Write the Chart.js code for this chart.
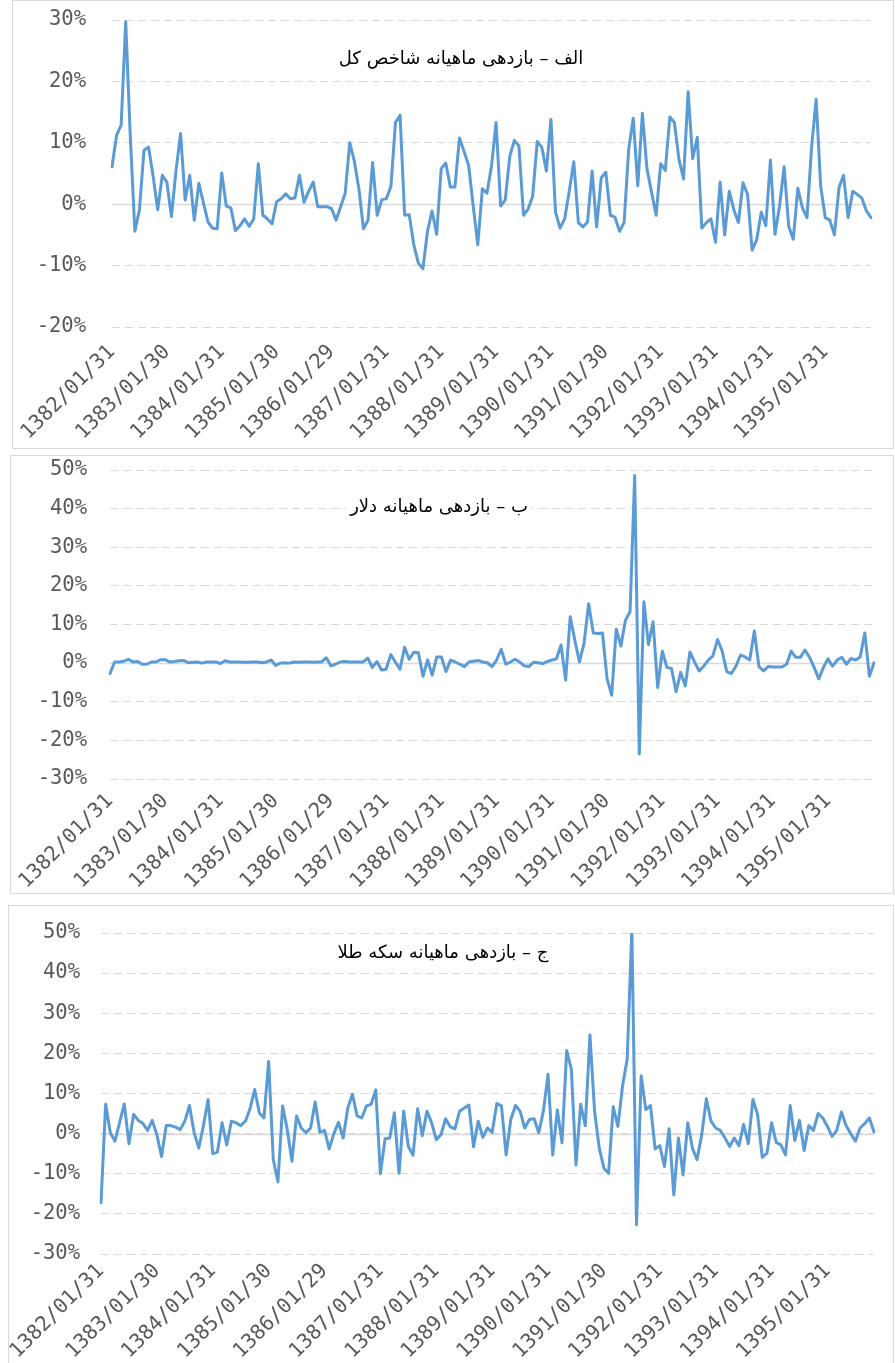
<!DOCTYPE html>
<html>
<head>
<meta charset="utf-8">
<script src="https://cdn.jsdelivr.net/npm/chart.js@4.4.0/dist/chart.umd.min.js"></script>
<style>
  html, body { margin: 0; padding: 0; background: #fff; }
  body { width: 895px; height: 1363px; position: relative; overflow: hidden; }
  .panel { position: absolute; border: 1px solid #d9d9d9; box-sizing: border-box; background: #fff; }
  .panel canvas { position: absolute; left: 0; top: 0; }
</style>
</head>
<body>
<div class="panel" style="left:12px;top:0px;width:882px;height:449px"><canvas id="stockChart" width="880" height="447"></canvas></div>
<div class="panel" style="left:10px;top:455px;width:884px;height:439px"><canvas id="dollarChart" width="882" height="437"></canvas></div>
<div class="panel" style="left:8px;top:905px;width:886px;height:460px"><canvas id="goldChart" width="884" height="458"></canvas></div>
<script>
// monthly returns (%), 1382/01 .. 1395/11
const yearLabels = ['1382/01/31', '1383/01/30', '1384/01/31', '1385/01/30', '1386/01/29', '1387/01/31', '1388/01/31',
  '1389/01/31', '1390/01/31', '1391/01/30', '1392/01/31', '1393/01/31', '1394/01/31', '1395/01/31'];

const stockReturns = [
  6.1, 11.2, 12.9, 29.7, 11, -4.4, -0.9, 8.8, 9.3, 4.5, -0.9, 4.7,
  3.6, -2.0, 5.5, 11.5, 0.7, 4.7, -2.6, 3.4, 0.2, -2.9, -3.9, -4.0,
  5.1, -0.3, -0.6, -4.3, -3.5, -2.4, -3.6, -2.4, 6.6, -1.8, -2.4, -3.2,
  0.4, 0.9, 1.7, 0.9, 1.0, 4.7, 0.3, 2.1, 3.6, -0.4, -0.4, -0.4,
  -0.7, -2.6, -0.4, 1.8, 10.0, 7.0, 2.5, -4.0, -2.6, 6.8, -1.8, 0.7,
  0.9, 2.9, 13.3, 14.5, -1.8, -1.7, -6.6, -9.6, -10.5, -4.4, -1.1, -4.9,
  5.8, 6.7, 2.8, 2.8, 10.8, 8.6, 6.3, -0.3, -6.6, 2.5, 1.8, 6.2,
  13.3, -0.3, 0.7, 7.8, 10.4, 9.5, -1.8, -0.8, 1.3, 10.2, 9.3, 5.4,
  13.8, -1.3, -3.9, -2.4, 2.1, 6.9, -3.0, -3.7, -2.9, 5.4, -3.7, 4.3,
  5.2, -1.8, -2.1, -4.4, -3.0, 8.9, 14.0, 3.0, 14.8, 5.8, 2.0, -1.8,
  6.6, 5.5, 14.2, 13.3, 7.3, 4.1, 18.3, 7.4, 10.9, -3.9, -3.0, -2.4,
  -6.2, 3.6, -5.0, 2.1, -0.9, -3.0, 3.5, 1.6, -7.5, -5.8, -1.3, -3.5,
  7.2, -4.9, -0.3, 6.1, -3.6, -5.7, 2.6, -0.6, -2.2, 9.2, 17.1, 2.9,
  -2.2, -2.6, -5.0, 2.7, 4.7, -2.2, 2.1, 1.6, 1.0, -1.1, -2.2
];

const dollarReturns = [
  -2.7, 0.3, 0.3, 0.5, 1.0, 0.3, 0.4, -0.3, -0.3, 0.3, 0.3, 0.9,
  0.9, 0.3, 0.4, 0.6, 0.7, 0.1, 0.2, 0.3, 0.0, 0.3, 0.3, 0.3,
  -0.1, 0.6, 0.3, 0.3, 0.3, 0.2, 0.2, 0.3, 0.3, 0.1, 0.3, 0.8,
  -0.6, 0.0, 0.1, 0.0, 0.3, 0.2, 0.3, 0.3, 0.2, 0.3, 0.3, 1.4,
  -0.7, -0.3, 0.3, 0.4, 0.3, 0.3, 0.3, 0.3, 1.3, -1.1, 0.4, -1.8,
  -1.6, 2.2, 0.3, -1.6, 4.1, 1.0, 2.8, 2.7, -3.4, 0.8, -3.1, 1.6,
  1.6, -2.2, 0.8, 0.3, -0.3, -0.9, 0.3, 0.5, 0.7, 0.3, 0.1, -0.9,
  0.8, 3.6, -0.3, 0.3, 1.0, 0.3, -0.7, -0.9, 0.2, 0.1, -0.1, 0.4,
  0.8, 1.1, 4.7, -4.4, 12.0, 5.9, 0.3, 5.1, 15.4, 7.8, 7.7, 7.8,
  -4.0, -8.3, 8.8, 4.4, 11.1, 13.3, 48.6, -23.5, 15.9, 4.8, 10.7, -6.3,
  3.1, -1.1, -1.4, -7.4, -2.4, -5.9, 2.9, 0.3, -2.0, -0.8, 0.8, 1.9,
  6.1, 3.2, -2.2, -2.7, -0.8, 2.1, 1.6, 0.8, 8.3, -0.9, -2.0, -0.9,
  -1.0, -1.0, -1.0, -0.3, 3.1, 1.5, 1.5, 3.4, 1.5, -1.1, -4.1, -1.1,
  1.1, -0.8, 0.8, 1.5, -0.3, 1.2, 0.8, 1.6, 7.8, -3.4, 0.1
];

const goldReturns = [
  -17.2, 7.3, 0.2, -1.9, 2.8, 7.4, -2.5, 4.8, 3.3, 2.5, 0.8, 3.3,
  -0.3, -5.7, 2.0, 2.0, 1.6, 1.0, 3.1, 7.0, 0.2, -3.6, 2.0, 8.5,
  -5.0, -4.6, 2.7, -2.8, 3.1, 2.7, 2.0, 3.1, 6.2, 11.0, 5.2, 3.9,
  18.0, -6.5, -12.0, 6.9, 1.0, -6.9, 4.4, 1.4, 0.2, 1.4, 7.9, 0.3,
  0.8, -3.8, 0.0, 2.8, -1.1, 6.4, 9.8, 4.4, 3.9, 6.9, 7.3, 10.9,
  -10.0, -1.3, -1.1, 5.2, -9.9, 5.6, -3.2, -5.4, 6.2, -0.5, 5.6, 2.7,
  -1.5, -0.3, 3.7, 1.7, 1.2, 5.6, 6.4, 7.1, -3.3, 3.1, -0.9, 1.4,
  0.3, 7.5, 6.9, -5.3, 3.5, 7.0, 5.6, 1.4, 3.5, 3.7, 0.2, 5.6,
  14.8, -5.3, 5.9, -2.3, 20.7, 16.1, -7.8, 7.3, 2.0, 24.6, 5.5, -3.6,
  -8.6, -9.9, 6.7, 1.8, 11.9, 18.6, 51.0, -22.7, 14.4, 6.0, 7.0, -3.8,
  -3.0, -8.2, 1.2, -15.3, -1.1, -10.3, 2.7, -3.6, -6.5, -0.3, 8.7, 3.1,
  1.4, 0.8, -1.1, -3.2, -1.1, -3.0, 2.3, -2.5, 8.5, 4.8, -5.9, -4.9,
  2.7, -2.2, -2.8, -5.3, 7.0, -1.7, 3.3, -4.2, 2.0, 0.8, 5.0, 3.9,
  1.8, -0.7, 0.8, 5.4, 2.0, 0.0, -1.9, 1.4, 2.5, 3.9, 0.4
];

const titles = {
  stock: 'الف – بازدهی ماهیانه شاخص کل',
  dollar: 'ب – بازدهی ماهیانه دلار',
  gold: 'ج – بازدهی ماهیانه سکه طلا',
};

const categories = stockReturns.map((_, i) => (i % 12 === 0 ? yearLabels[i / 12] : ''));

const tickFont = { family: "'DejaVu Sans Mono', 'Liberation Mono', monospace", size: 20.5 };
const tickColor = '#595959';
const gridColor = '#d9d9d9';

// solid zero line + title with white box behind it
const decorPlugin = {
  id: 'decor',
  beforeDatasetsDraw(chart, args, opts) {
    const { ctx, chartArea } = chart;
    const y0 = chart.scales.y.getPixelForValue(0);
    ctx.save();
    ctx.strokeStyle = gridColor;
    ctx.lineWidth = 1.5;
    ctx.setLineDash([]);
    ctx.beginPath();
    ctx.moveTo(chartArea.left, Math.round(y0) + 0.5);
    ctx.lineTo(chartArea.right, Math.round(y0) + 0.5);
    ctx.stroke();

    ctx.font = "18px 'DejaVu Sans', sans-serif";
    ctx.direction = 'rtl';
    ctx.textAlign = 'center';
    ctx.textBaseline = 'middle';
    const w = ctx.measureText(opts.text).width;
    ctx.fillStyle = '#fff';
    ctx.fillRect(opts.x - w / 2 - 4, opts.y - 13, w + 8, 26);
    ctx.fillStyle = '#000';
    ctx.fillText(opts.text, opts.x, opts.y);
    ctx.restore();
  }
};

function makeChart(id, values, cfg) {
  return new Chart(document.getElementById(id), {
    type: 'line',
    data: {
      labels: categories,
      datasets: [{
        data: values,
        borderColor: '#5b9bd5',
        borderWidth: 3,
        pointRadius: 0,
        tension: 0,
        fill: false,
        borderJoinStyle: 'round',
        borderCapStyle: 'round',
      }]
    },
    options: {
      responsive: false,
      animation: false,
      events: [],
      layout: { padding: { top: cfg.top, right: cfg.right, left: 0, bottom: 0 } },
      plugins: {
        legend: { display: false },
        tooltip: { enabled: false },
        decor: { text: cfg.title, x: cfg.titleX, y: cfg.titleY },
      },
      scales: {
        x: {
          type: 'category',
          offset: false,
          grid: { display: false, drawTicks: false },
          border: { display: false },
          ticks: { autoSkip: false, maxRotation: 45, minRotation: 45, padding: cfg.xPad, font: tickFont, color: tickColor },
          afterFit(scale) {
            scale.height = cfg.xHeight;
            scale.paddingLeft = 0;
            scale.paddingRight = 0;
          },
        },
        y: {
          min: cfg.min,
          max: cfg.max,
          ticks: { stepSize: 10, padding: cfg.yPad, font: tickFont, color: tickColor, callback: v => v + '%' },
          grid: { color: gridColor, lineWidth: 1, drawTicks: false },
          border: { display: false, dash: [8, 5] },
          afterFit(scale) {
            scale.width = cfg.yWidth;
            scale.paddingTop = 0;
            scale.paddingBottom = 0;
          },
        }
      }
    },
    plugins: [decorPlugin]
  });
}

makeChart('stockChart', stockReturns, {
  min: -20, max: 30, top: 19, right: 22, xHeight: 121, yWidth: 99, yPad: 26, xPad: 13,
  title: titles.stock, titleX: 448, titleY: 58,
});
makeChart('dollarChart', dollarReturns, {
  min: -30, max: 50, top: 14, right: 19, xHeight: 114, yWidth: 99, yPad: 23, xPad: 10,
  title: titles.dollar, titleX: 428, titleY: 51,
});
makeChart('goldChart', goldReturns, {
  min: -30, max: 50, top: 27, right: 19, xHeight: 110, yWidth: 92, yPad: 21, xPad: 5,
  title: titles.gold, titleX: 434, titleY: 47,
});
</script>
</body>
</html>
